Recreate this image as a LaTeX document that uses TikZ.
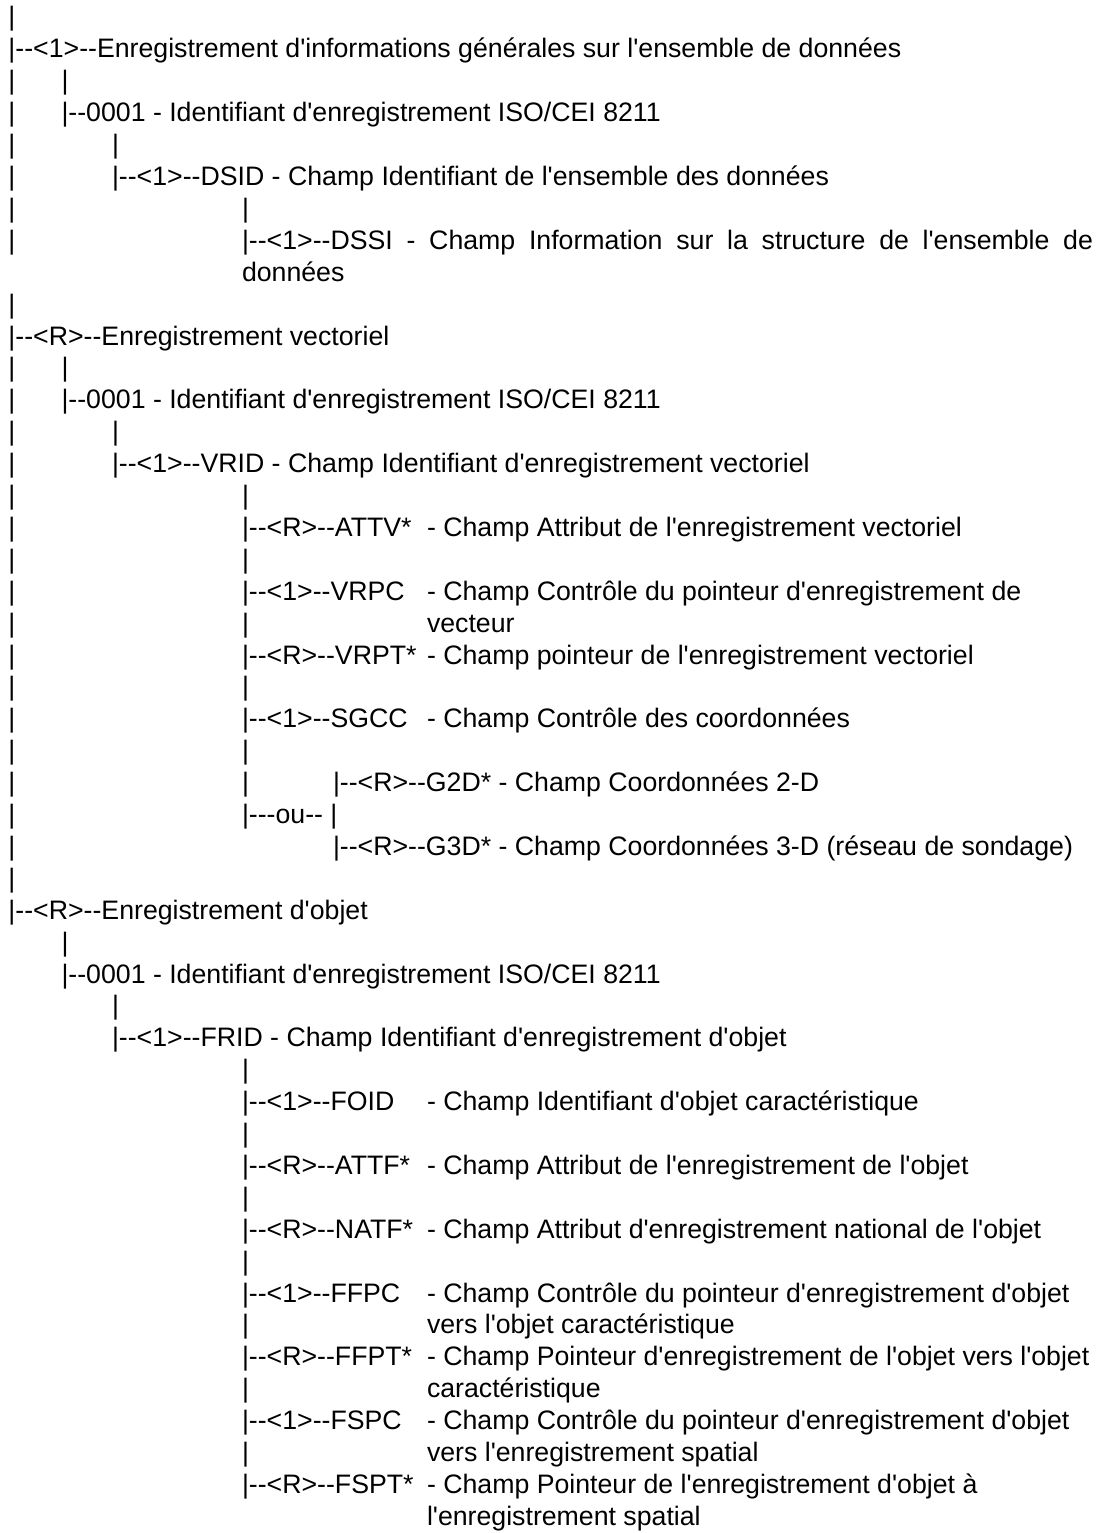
\documentclass[tikz,border=0pt]{standalone}
\usepackage{fontspec}
\newfontfamily\arialf{Liberation Sans}
\tikzset{
  t/.style={anchor=base west, inner sep=0pt, outer sep=0pt, text=black,
            font=\arialf\fontsize{26.7}{31.9}\selectfont}
}
% \tl{name}{x}{line number}{text}
\newcommand\tl[4]{\node[t] (#1) at (#2,{26+(#3-1)*31.9}) {#4};}
\begin{document}
\begin{tikzpicture}[x=1pt,y=-1pt]
\fill[white] (0,0) rectangle (1101,1533);
\useasboundingbox (0,0) rectangle (1101,1533);
\def\ca{8.5}
\def\cb{61.5}
\def\cc{112}
\def\cd{242}
\def\ce{333}
\def\tb{427}
% --- Enregistrement d'informations generales
\tl{l1a}{\ca}{1}{|}
\tl{l2a}{\ca}{2}{|--<1>--Enregistrement d'informations générales sur l'ensemble de données}
\tl{l3a}{\ca}{3}{|}\tl{l3b}{\cb}{3}{|}
\tl{l4a}{\ca}{4}{|}\tl{l4b}{\cb}{4}{|--0001 - Identifiant d'enregistrement ISO/CEI 8211}
\tl{l5a}{\ca}{5}{|}\tl{l5b}{\cc}{5}{|}
\tl{l6a}{\ca}{6}{|}\tl{l6b}{\cc}{6}{|--<1>--DSID - Champ Identifiant de l'ensemble des données}
\tl{l7a}{\ca}{7}{|}\tl{l7b}{\cd}{7}{|}
\tl{l8a}{\ca}{8}{|}\tl{l8b}{\cd}{8}{\makebox[851pt][s]{|--<1>--DSSI - Champ Information sur la structure de l'ensemble de}}
\tl{l9b}{\cd}{9}{données}
% --- Enregistrement vectoriel
\tl{l10a}{\ca}{10}{|}
\tl{l11a}{\ca}{11}{|--<R>--Enregistrement vectoriel}
\tl{l12a}{\ca}{12}{|}\tl{l12b}{\cb}{12}{|}
\tl{l13a}{\ca}{13}{|}\tl{l13b}{\cb}{13}{|--0001 - Identifiant d'enregistrement ISO/CEI 8211}
\tl{l14a}{\ca}{14}{|}\tl{l14b}{\cc}{14}{|}
\tl{l15a}{\ca}{15}{|}\tl{l15b}{\cc}{15}{|--<1>--VRID - Champ Identifiant d'enregistrement vectoriel}
\tl{l16a}{\ca}{16}{|}\tl{l16b}{\cd}{16}{|}
\tl{l17a}{\ca}{17}{|}\tl{l17b}{\cd}{17}{|--<R>--ATTV*}\tl{l17c}{\tb}{17}{- Champ Attribut de l'enregistrement vectoriel}
\tl{l18a}{\ca}{18}{|}\tl{l18b}{\cd}{18}{|}
\tl{l19a}{\ca}{19}{|}\tl{l19b}{\cd}{19}{|--<1>--VRPC}\tl{l19c}{\tb}{19}{- Champ Contrôle du pointeur d'enregistrement de}
\tl{l20a}{\ca}{20}{|}\tl{l20b}{\cd}{20}{|}\tl{l20c}{\tb}{20}{vecteur}
\tl{l21a}{\ca}{21}{|}\tl{l21b}{\cd}{21}{|--<R>--VRPT*}\tl{l21c}{\tb}{21}{- Champ pointeur de l'enregistrement vectoriel}
\tl{l22a}{\ca}{22}{|}\tl{l22b}{\cd}{22}{|}
\tl{l23a}{\ca}{23}{|}\tl{l23b}{\cd}{23}{|--<1>--SGCC}\tl{l23c}{\tb}{23}{- Champ Contrôle des coordonnées}
\tl{l24a}{\ca}{24}{|}\tl{l24b}{\cd}{24}{|}
\tl{l25a}{\ca}{25}{|}\tl{l25b}{\cd}{25}{|}\tl{l25c}{\ce}{25}{|--<R>--G2D* - Champ Coordonnées 2-D}
\tl{l26a}{\ca}{26}{|}\tl{l26b}{\cd}{26}{|---ou-- |}
\tl{l27a}{\ca}{27}{|}\tl{l27c}{\ce}{27}{|--<R>--G3D* - Champ Coordonnées 3-D (réseau de sondage)}
\tl{l28a}{\ca}{28}{|}
% --- Enregistrement d'objet
\tl{l29a}{\ca}{29}{|--<R>--Enregistrement d'objet}
\tl{l30b}{\cb}{30}{|}
\tl{l31b}{\cb}{31}{|--0001 - Identifiant d'enregistrement ISO/CEI 8211}
\tl{l32b}{\cc}{32}{|}
\tl{l33b}{\cc}{33}{|--<1>--FRID - Champ Identifiant d'enregistrement d'objet}
\tl{l34b}{\cd}{34}{|}
\tl{l35b}{\cd}{35}{|--<1>--FOID}\tl{l35c}{\tb}{35}{- Champ Identifiant d'objet caractéristique}
\tl{l36b}{\cd}{36}{|}
\tl{l37b}{\cd}{37}{|--<R>--ATTF*}\tl{l37c}{\tb}{37}{- Champ Attribut de l'enregistrement de l'objet}
\tl{l38b}{\cd}{38}{|}
\tl{l39b}{\cd}{39}{|--<R>--NATF*}\tl{l39c}{\tb}{39}{- Champ Attribut d'enregistrement national de l'objet}
\tl{l40b}{\cd}{40}{|}
\tl{l41b}{\cd}{41}{|--<1>--FFPC}\tl{l41c}{\tb}{41}{- Champ Contrôle du pointeur d'enregistrement d'objet}
\tl{l42b}{\cd}{42}{|}\tl{l42c}{\tb}{42}{vers l'objet caractéristique}
\tl{l43b}{\cd}{43}{|--<R>--FFPT*}\tl{l43c}{\tb}{43}{- Champ Pointeur d'enregistrement de l'objet vers l'objet}
\tl{l44b}{\cd}{44}{|}\tl{l44c}{\tb}{44}{caractéristique}
\tl{l45b}{\cd}{45}{|--<1>--FSPC}\tl{l45c}{\tb}{45}{- Champ Contrôle du pointeur d'enregistrement d'objet}
\tl{l46b}{\cd}{46}{|}\tl{l46c}{\tb}{46}{vers l'enregistrement spatial}
\tl{l47b}{\cd}{47}{|--<R>--FSPT*}\tl{l47c}{\tb}{47}{- Champ Pointeur de l'enregistrement d'objet à}
\tl{l48c}{\tb}{48}{l'enregistrement spatial}
\end{tikzpicture}
\end{document}
